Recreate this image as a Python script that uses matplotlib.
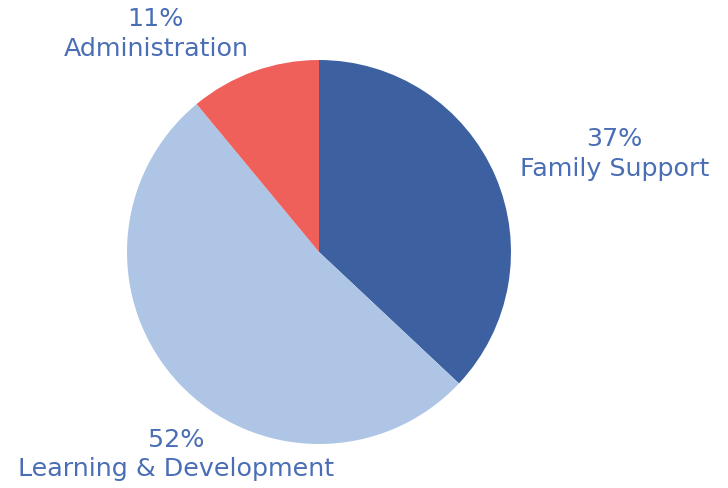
import matplotlib
matplotlib.use("Agg")
import matplotlib.pyplot as plt

labels = ["Family Support", "Learning & Development", "Administration"]
shares = [37, 52, 11]
colors = ["#3D61A0", "#AEC5E5", "#F0605A"]

# label spots in pie-radius units
label_xy = [(1.54, 0.51), (-0.745, -1.055), (-0.85, 1.135)]

W, H = 728, 488
fig = plt.figure(figsize=(W / 100, H / 100), dpi=100)
cx, cy, r = 319, 252, 192
ax = fig.add_axes([(cx - r) / W, (H - cy - r) / H, 2 * r / W, 2 * r / H])

ax.pie(shares, colors=colors, startangle=90, counterclock=False,
       radius=1, wedgeprops=dict(linewidth=0))
ax.set_xlim(-1, 1)
ax.set_ylim(-1, 1)
ax.set_aspect("equal")
ax.axis("off")

for lab, val, (x, y) in zip(labels, shares, label_xy):
    ax.text(x, y, f"{val}%\n{lab}", ha="center", va="center",
            fontsize=18.3, color="#4A6EB5", family="DejaVu Sans",
            linespacing=1.3, clip_on=False)

fig.savefig("out.png", dpi=100)
